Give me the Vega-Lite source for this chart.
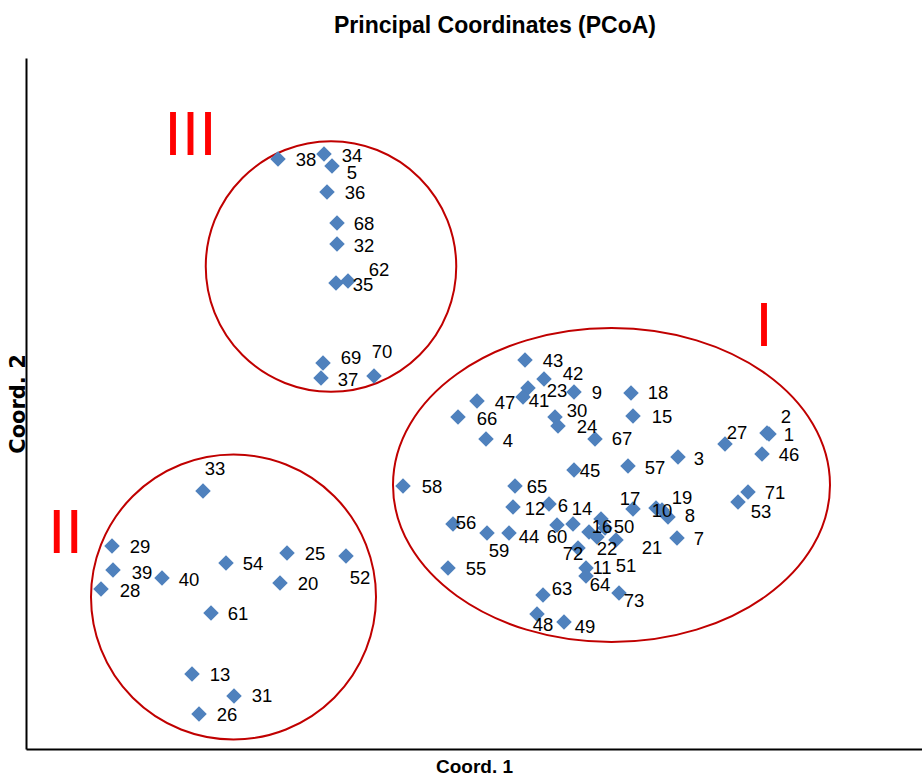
{
  "$schema": "https://vega.github.io/schema/vega-lite/v6.json",
  "width": 896,
  "height": 691,
  "autosize": {"type": "none"},
  "padding": {"left": 26, "top": 58, "right": 0, "bottom": 29},
  "background": "white",
  "title": {"text": "Principal Coordinates (PCoA)", "font": "Liberation Sans", "fontSize": 23, "fontWeight": "bold", "color": "black", "anchor": "middle", "dx": 21, "offset": 2, "baseline": "alphabetic"},
  "config": {
    "view": {"stroke": null},
    "axis": {"ticks": false, "labels": false, "grid": false, "domainColor": "black", "domainWidth": 2, "titleColor": "black", "titleFontWeight": "bold"},
    "axisX": {"titleFont": "Liberation Sans", "titleFontSize": 19, "titlePadding": 8},
    "axisY": {"titleFont": "DejaVu Sans", "titleFontSize": 21, "titlePadding": 2, "titleBaseline": "alphabetic"}
  },
  "datasets": {
    "pts": [
      {"label": "38", "x": -2.03, "y": 3.12, "lx": -1.75, "ly": 3.11},
      {"label": "34", "x": -1.57, "y": 3.17, "lx": -1.29, "ly": 3.15},
      {"label": "5", "x": -1.49, "y": 3.05, "lx": -1.29, "ly": 2.98},
      {"label": "36", "x": -1.54, "y": 2.79, "lx": -1.26, "ly": 2.78},
      {"label": "68", "x": -1.44, "y": 2.48, "lx": -1.17, "ly": 2.47},
      {"label": "32", "x": -1.44, "y": 2.27, "lx": -1.17, "ly": 2.25},
      {"label": "35", "x": -1.45, "y": 1.88, "lx": -1.18, "ly": 1.86},
      {"label": "62", "x": -1.33, "y": 1.90, "lx": -1.02, "ly": 2.01},
      {"label": "69", "x": -1.58, "y": 1.08, "lx": -1.30, "ly": 1.13},
      {"label": "37", "x": -1.60, "y": 0.93, "lx": -1.33, "ly": 0.91},
      {"label": "70", "x": -1.07, "y": 0.95, "lx": -0.99, "ly": 1.19},
      {"label": "33", "x": -2.78, "y": -0.20, "lx": -2.66, "ly": 0.02},
      {"label": "29", "x": -3.69, "y": -0.75, "lx": -3.41, "ly": -0.76},
      {"label": "39", "x": -3.68, "y": -0.99, "lx": -3.39, "ly": -1.02},
      {"label": "28", "x": -3.80, "y": -1.18, "lx": -3.51, "ly": -1.20},
      {"label": "40", "x": -3.19, "y": -1.07, "lx": -2.92, "ly": -1.09},
      {"label": "54", "x": -2.55, "y": -0.92, "lx": -2.28, "ly": -0.93},
      {"label": "25", "x": -1.94, "y": -0.82, "lx": -1.66, "ly": -0.83},
      {"label": "52", "x": -1.35, "y": -0.85, "lx": -1.21, "ly": -1.07},
      {"label": "20", "x": -2.01, "y": -1.12, "lx": -1.73, "ly": -1.13},
      {"label": "61", "x": -2.70, "y": -1.42, "lx": -2.43, "ly": -1.43},
      {"label": "13", "x": -2.89, "y": -2.03, "lx": -2.61, "ly": -2.04},
      {"label": "31", "x": -2.47, "y": -2.25, "lx": -2.19, "ly": -2.25},
      {"label": "26", "x": -2.82, "y": -2.43, "lx": -2.54, "ly": -2.44},
      {"label": "43", "x": 0.44, "y": 1.11, "lx": 0.72, "ly": 1.10},
      {"label": "42", "x": 0.63, "y": 0.92, "lx": 0.92, "ly": 0.97},
      {"label": "23", "x": 0.47, "y": 0.83, "lx": 0.76, "ly": 0.80},
      {"label": "41", "x": 0.42, "y": 0.74, "lx": 0.58, "ly": 0.70},
      {"label": "47", "x": -0.04, "y": 0.70, "lx": 0.24, "ly": 0.68},
      {"label": "66", "x": -0.23, "y": 0.54, "lx": 0.06, "ly": 0.52},
      {"label": "4", "x": 0.05, "y": 0.32, "lx": 0.27, "ly": 0.30},
      {"label": "9", "x": 0.93, "y": 0.79, "lx": 1.16, "ly": 0.78},
      {"label": "30", "x": 0.74, "y": 0.54, "lx": 0.96, "ly": 0.60},
      {"label": "24", "x": 0.77, "y": 0.45, "lx": 1.06, "ly": 0.44},
      {"label": "67", "x": 1.14, "y": 0.32, "lx": 1.41, "ly": 0.32},
      {"label": "45", "x": 0.93, "y": 0.01, "lx": 1.09, "ly": 0.00},
      {"label": "58", "x": -0.78, "y": -0.15, "lx": -0.49, "ly": -0.16},
      {"label": "65", "x": 0.34, "y": -0.15, "lx": 0.56, "ly": -0.16},
      {"label": "12", "x": 0.32, "y": -0.36, "lx": 0.54, "ly": -0.38},
      {"label": "6", "x": 0.68, "y": -0.33, "lx": 0.82, "ly": -0.35},
      {"label": "14", "x": 0.92, "y": -0.53, "lx": 1.01, "ly": -0.38},
      {"label": "56", "x": -0.28, "y": -0.53, "lx": -0.15, "ly": -0.52},
      {"label": "59", "x": 0.06, "y": -0.62, "lx": 0.18, "ly": -0.80},
      {"label": "44", "x": 0.28, "y": -0.62, "lx": 0.48, "ly": -0.66},
      {"label": "60", "x": 0.76, "y": -0.54, "lx": 0.76, "ly": -0.66},
      {"label": "72", "x": 0.97, "y": -0.77, "lx": 0.92, "ly": -0.83},
      {"label": "16", "x": 1.08, "y": -0.61, "lx": 1.21, "ly": -0.56},
      {"label": "50", "x": 1.20, "y": -0.48, "lx": 1.43, "ly": -0.56},
      {"label": "22", "x": 1.16, "y": -0.66, "lx": 1.26, "ly": -0.78},
      {"label": "21", "x": 1.35, "y": -0.69, "lx": 1.71, "ly": -0.77},
      {"label": "51", "x": 1.24, "y": -0.57, "lx": 1.45, "ly": -0.95},
      {"label": "11", "x": 1.05, "y": -0.97, "lx": 1.21, "ly": -0.97},
      {"label": "64", "x": 1.05, "y": -1.05, "lx": 1.19, "ly": -1.14},
      {"label": "73", "x": 1.38, "y": -1.22, "lx": 1.53, "ly": -1.30},
      {"label": "63", "x": 0.62, "y": -1.24, "lx": 0.81, "ly": -1.18},
      {"label": "48", "x": 0.56, "y": -1.43, "lx": 0.62, "ly": -1.54},
      {"label": "49", "x": 0.83, "y": -1.51, "lx": 1.04, "ly": -1.56},
      {"label": "55", "x": -0.33, "y": -0.97, "lx": -0.05, "ly": -0.98},
      {"label": "18", "x": 1.50, "y": 0.78, "lx": 1.77, "ly": 0.78},
      {"label": "15", "x": 1.52, "y": 0.55, "lx": 1.81, "ly": 0.54},
      {"label": "57", "x": 1.47, "y": 0.05, "lx": 1.74, "ly": 0.03},
      {"label": "3", "x": 1.97, "y": 0.14, "lx": 2.18, "ly": 0.12},
      {"label": "27", "x": 2.44, "y": 0.27, "lx": 2.56, "ly": 0.38},
      {"label": "2", "x": 2.86, "y": 0.38, "lx": 3.05, "ly": 0.54},
      {"label": "1", "x": 2.88, "y": 0.37, "lx": 3.08, "ly": 0.36},
      {"label": "46", "x": 2.81, "y": 0.17, "lx": 3.08, "ly": 0.16},
      {"label": "71", "x": 2.67, "y": -0.21, "lx": 2.94, "ly": -0.22},
      {"label": "53", "x": 2.57, "y": -0.31, "lx": 2.80, "ly": -0.41},
      {"label": "17", "x": 1.52, "y": -0.38, "lx": 1.49, "ly": -0.28},
      {"label": "10", "x": 1.75, "y": -0.37, "lx": 1.81, "ly": -0.40},
      {"label": "19", "x": 1.81, "y": -0.39, "lx": 2.01, "ly": -0.27},
      {"label": "8", "x": 1.87, "y": -0.46, "lx": 2.09, "ly": -0.45},
      {"label": "7", "x": 1.96, "y": -0.67, "lx": 2.18, "ly": -0.68}
    ],
    "groups": [
      {"group": "III", "x": -2.905, "y": 3.35},
      {"group": "II", "x": -4.155, "y": -0.63},
      {"group": "I", "x": 2.83, "y": 1.445}
    ]
  },
  "layer": [
    {
      "mark": {"type": "rule", "color": "#8c8c8c", "strokeWidth": 1.5},
      "encoding": {
        "x": {"datum": 0, "type": "quantitative", "title": "Coord. 1", "scale": {"domain": [-4.55, 4.41], "nice": false, "zero": false}}
      }
    },
    {
      "mark": {"type": "rule", "color": "#8c8c8c", "strokeWidth": 1.5},
      "encoding": {
        "y": {"datum": 0, "type": "quantitative", "title": "Coord. 2", "scale": {"domain": [-2.78, 4.13], "nice": false, "zero": false}}
      }
    },
    {
      "mark": {"type": "rule", "color": "black", "strokeWidth": 2},
      "encoding": {
        "y": {"datum": 4.13, "type": "quantitative", "title": "Coord. 2", "scale": {"domain": [-2.78, 4.13], "nice": false, "zero": false}}
      }
    },
    {
      "data": {"values": [{"cluster": "I", "x": 1.305, "y": -0.14}]},
      "mark": {"type": "point", "shape": "M-1,0C-1,-0.3968,-0.5523,-0.7185,0,-0.7185C0.5523,-0.7185,1,-0.3968,1,0C1,0.3968,0.5523,0.7185,0,0.7185C-0.5523,0.7185,-1,0.3968,-1,0Z", "size": 190969, "filled": false, "stroke": "#C00000", "strokeWidth": 2, "opacity": 1},
      "encoding": {
        "x": {"field": "x", "type": "quantitative", "title": "Coord. 1", "scale": {"domain": [-4.55, 4.41], "nice": false, "zero": false}},
        "y": {"field": "y", "type": "quantitative", "title": "Coord. 2", "scale": {"domain": [-2.78, 4.13], "nice": false, "zero": false}}
      }
    },
    {
      "data": {"values": [{"cluster": "II", "x": -2.475, "y": -1.26}]},
      "mark": {"type": "point", "shape": "circle", "size": 81225, "filled": false, "stroke": "#C00000", "strokeWidth": 2, "opacity": 1},
      "encoding": {
        "x": {"field": "x", "type": "quantitative", "title": "Coord. 1", "scale": {"domain": [-4.55, 4.41], "nice": false, "zero": false}},
        "y": {"field": "y", "type": "quantitative", "title": "Coord. 2", "scale": {"domain": [-2.78, 4.13], "nice": false, "zero": false}}
      }
    },
    {
      "data": {"values": [{"cluster": "III", "x": -1.5, "y": 2.045}]},
      "mark": {"type": "point", "shape": "circle", "size": 62750, "filled": false, "stroke": "#C00000", "strokeWidth": 2, "opacity": 1},
      "encoding": {
        "x": {"field": "x", "type": "quantitative", "title": "Coord. 1", "scale": {"domain": [-4.55, 4.41], "nice": false, "zero": false}},
        "y": {"field": "y", "type": "quantitative", "title": "Coord. 2", "scale": {"domain": [-2.78, 4.13], "nice": false, "zero": false}}
      }
    },
    {
      "data": {"name": "pts"},
      "mark": {"type": "point", "shape": "diamond", "size": 240, "filled": true, "color": "#4F81BD", "opacity": 1},
      "encoding": {
        "x": {"field": "x", "type": "quantitative", "title": "Coord. 1", "scale": {"domain": [-4.55, 4.41], "nice": false, "zero": false}},
        "y": {"field": "y", "type": "quantitative", "title": "Coord. 2", "scale": {"domain": [-2.78, 4.13], "nice": false, "zero": false}}
      }
    },
    {
      "data": {"name": "pts"},
      "mark": {"type": "text", "font": "Liberation Sans", "fontSize": 18.5, "color": "black", "align": "center", "baseline": "middle"},
      "encoding": {
        "x": {"field": "lx", "type": "quantitative", "title": "Coord. 1", "scale": {"domain": [-4.55, 4.41], "nice": false, "zero": false}},
        "y": {"field": "ly", "type": "quantitative", "title": "Coord. 2", "scale": {"domain": [-2.78, 4.13], "nice": false, "zero": false}},
        "text": {"field": "label"}
      }
    },
    {
      "data": {"name": "groups"},
      "mark": {"type": "text", "font": "Liberation Sans", "fontSize": 63, "color": "#FF0000", "align": "center", "baseline": "middle"},
      "encoding": {
        "x": {"field": "x", "type": "quantitative", "title": "Coord. 1", "scale": {"domain": [-4.55, 4.41], "nice": false, "zero": false}},
        "y": {"field": "y", "type": "quantitative", "title": "Coord. 2", "scale": {"domain": [-2.78, 4.13], "nice": false, "zero": false}},
        "text": {"field": "group"}
      }
    }
  ]
}
